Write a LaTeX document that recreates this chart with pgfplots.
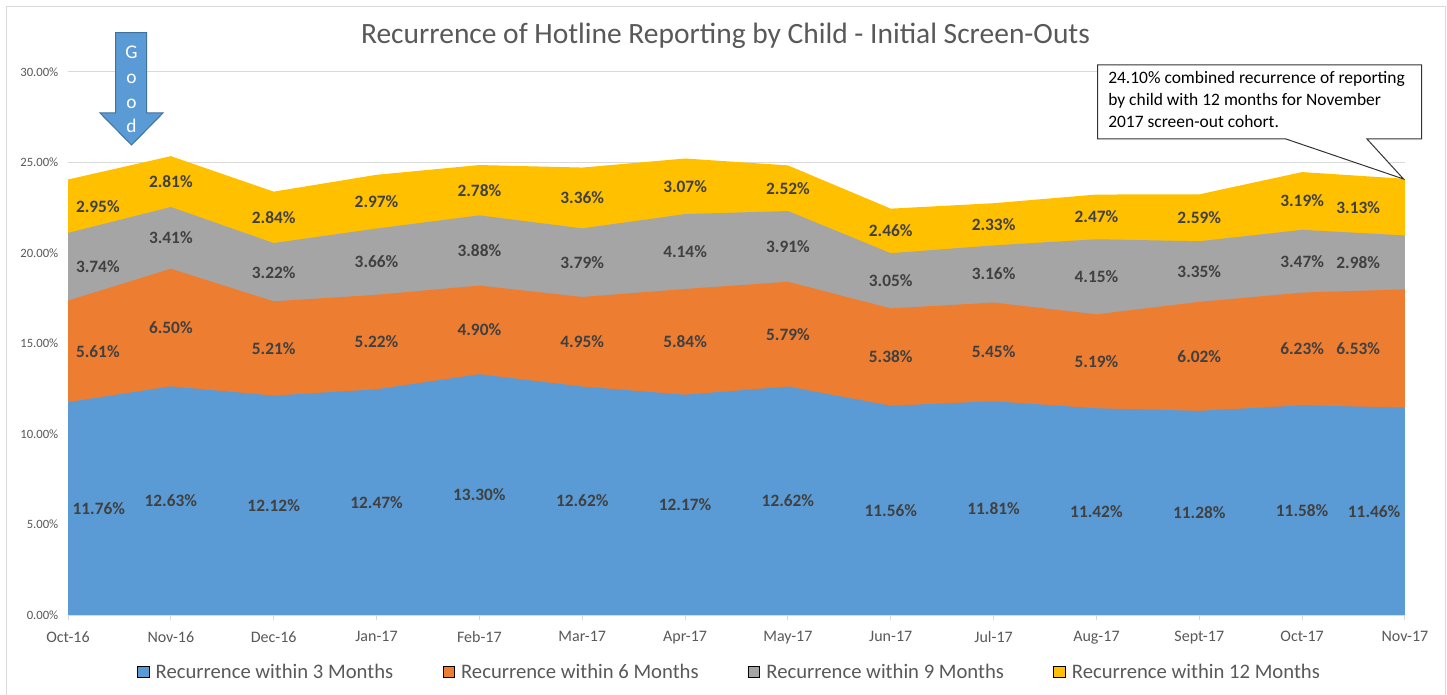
\documentclass[border=0pt]{standalone}
\usepackage{pgfplots}
\pgfplotsset{compat=1.18}
\usepackage{pgfplotstable}
\usepackage{fontspec}
\setmainfont{Carlito}
\definecolor{c3}{HTML}{5B9BD5}
\definecolor{c6}{HTML}{ED7D31}
\definecolor{c9}{HTML}{A5A5A5}
\definecolor{c12}{HTML}{FFC000}
\definecolor{txt}{HTML}{595959}
\definecolor{lab}{HTML}{404040}
\definecolor{gridc}{HTML}{D9D9D9}
\definecolor{arrowedge}{HTML}{41719C}

% x: category index; la/lo: label x positions (3-month series / other series)
\pgfplotstableread{
x  la     lo     a     b    c    d
0  0.30   0.29   11.76 5.61 3.74 2.95
1  1      1      12.63 6.50 3.41 2.81
2  2      2      12.12 5.21 3.22 2.84
3  3      3      12.47 5.22 3.66 2.97
4  4      4      13.30 4.90 3.88 2.78
5  5      5      12.62 4.95 3.79 3.36
6  6      6      12.17 5.84 4.14 3.07
7  7      7      12.62 5.79 3.91 2.52
8  8      8      11.56 5.38 3.05 2.46
9  9      9      11.81 5.45 3.16 2.33
10 10     10     11.42 5.19 4.15 2.47
11 11     11     11.28 6.02 3.35 2.59
12 12     12     11.58 6.23 3.47 3.19
13 12.70  12.545 11.46 6.53 2.98 3.13
}\data

\pgfplotsset{
  lbl/.style={draw=none, forget plot, point meta=explicit,
    nodes near coords={\pgfmathprintnumber[fixed,fixed zerofill,precision=2]{\pgfplotspointmeta}\%},
    every node near coord/.append style={anchor=center, text=lab,
      font=\bfseries\fontsize{13}{15}\selectfont, inner sep=0pt}},
}

\begin{document}
\begin{tikzpicture}[x=0.75pt,y=0.75pt]
\useasboundingbox (0,0) rectangle (1447,694);
\fill[white] (0,0) rectangle (1447,694);
\draw[gridc, line width=0.75pt] (6.5,-5) -- (6.5,687) -- (1445,687) -- (1445,-5);

\begin{axis}[
  at={(51pt,59.25pt)}, anchor=south west,
  scale only axis, width=1002.75pt, height=407.25pt,
  xmin=0, xmax=13, ymin=0, ymax=30,
  axis line style={draw=none},
  xtick={0,...,13},
  xticklabels={Oct-16,Nov-16,Dec-16,Jan-17,Feb-17,Mar-17,Apr-17,May-17,Jun-17,Jul-17,Aug-17,Sept-17,Oct-17,Nov-17},
  ytick={0,5,...,30},
  yticklabel={\pgfmathprintnumber[fixed,fixed zerofill,precision=2]{\tick}\%},
  /pgf/number format/assume math mode=true,
  xticklabel style={font=\fontsize{12}{14}\selectfont, text=txt, yshift=-5pt},
  yticklabel style={font=\fontsize{9.5}{11}\selectfont, text=txt},
  tick align=outside, xtick pos=bottom, ytick pos=left,
  major tick length=3.75pt,
  xtick style={gridc, line width=0.75pt},
  ytick style={draw=none},
  ymajorgrids, grid style={gridc, line width=0.75pt},
  legend image code/.code={\fill[#1] (0pt,-4.1pt) rectangle (8.6pt,4.1pt); \path (12pt,0pt);},
  legend columns=4,
  legend style={draw=none, fill=none, at={(0.4948,-0.105)}, anchor=center,
    font=\fontsize{15.5}{18}\selectfont, text=txt,
    nodes={inner xsep=1.5pt},
    /tikz/every even column/.append style={column sep=35.5pt}},
  legend cell align=left,
  clip=false,
]
\addlegendimage{fill=c3}
\addlegendentry{Recurrence within 3 Months}
\addlegendimage{fill=c6}
\addlegendentry{Recurrence within 6 Months}
\addlegendimage{fill=c9}
\addlegendentry{Recurrence within 9 Months}
\addlegendimage{fill=c12}
\addlegendentry{Recurrence within 12 Months}

\addplot[fill=c12, draw=none, forget plot] table[x=x, y expr=\thisrow{a}+\thisrow{b}+\thisrow{c}+\thisrow{d}] {\data} \closedcycle;
\addplot[fill=c9, draw=none, forget plot] table[x=x, y expr=\thisrow{a}+\thisrow{b}+\thisrow{c}] {\data} \closedcycle;
\addplot[fill=c6, draw=none, forget plot] table[x=x, y expr=\thisrow{a}+\thisrow{b}] {\data} \closedcycle;
\addplot[fill=c3, draw=none, forget plot] table[x=x, y=a] {\data} \closedcycle;

\draw[gridc, line width=0.75pt] (axis cs:0,0) -- (axis cs:13,0);

\addplot[lbl] table[x=la, y expr=\thisrow{a}/2, meta=a] {\data};
\addplot[lbl] table[x=lo, y expr=\thisrow{a}+\thisrow{b}/2, meta=b] {\data};
\addplot[lbl] table[x=lo, y expr=\thisrow{a}+\thisrow{b}+\thisrow{c}/2, meta=c] {\data};
\addplot[lbl] table[x=lo, y expr=\thisrow{a}+\thisrow{b}+\thisrow{c}+\thisrow{d}/2, meta=d] {\data};
\end{axis}

% title
\node[anchor=base, text=txt, font=\fontsize{22.1}{26}\selectfont, inner sep=0pt] at (725.5,650) {Recurrence of Hotline Reporting by Child - Initial Screen-Outs};

% "Good" arrow
\draw[fill=c3, draw=arrowedge, line width=0.75pt]
  (115.5,661.3) -- (146.7,661.3) -- (146.7,581) -- (163,581) -- (131.5,549) -- (100,581) -- (115.5,581) -- cycle;
\node[text=white, align=center, font=\fontsize{14.5}{18.5}\selectfont, inner sep=0pt] at (131.5,604.5) {G\\o\\o\\d};

% callout
\draw[fill=white, draw=black!80, line width=0.75pt]
  (1097.5,629) -- (1421.5,629) -- (1421.5,555) -- (1367,555) -- (1403.5,515) -- (1286,555) -- (1097.5,555) -- cycle;
\node[anchor=north west, align=left, font=\fontsize{13.1}{16.5}\selectfont, text=black, inner sep=0pt] at (1108,623)
  {24.10\% combined recurrence of reporting\\by child with 12 months for November\\2017 screen-out cohort.};
\end{tikzpicture}
\end{document}
